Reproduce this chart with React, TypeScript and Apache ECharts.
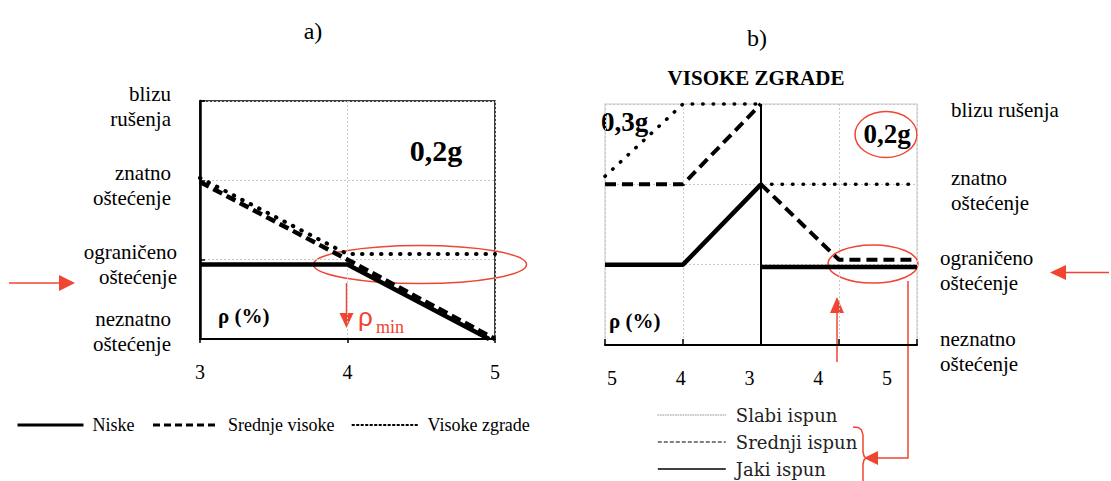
import React, { useEffect, useRef } from 'react';
import * as echarts from 'echarts';

// ---- tick / category labels ----
const levelLabelsA = ['neznatno\noštećenje', 'ograničeno\noštećenje', 'znatno\noštećenje', 'blizu\nrušenja'];
const levelLabelsB = ['neznatno\noštećenje', 'ograničeno\noštećenje', 'znatno\noštećenje', 'blizu rušenja'];
const xTickLabelsB = ['5', '4', '3', '4', '5'];
const legendNamesA = ['Niske', 'Srednje visoke', 'Visoke zgrade'];
const legendNamesB = ['Slabi ispun', 'Srednji ispun', 'Jaki ispun'];

// ---- panel a) data: [rho %, damage level 0..3] ----
const niske = [[3, 0.94], [4, 0.94], [4.96, 0]];
const srednjeVisoke = [[3, 1.98], [4, 1.0], [5, 0]];
const visokeZgrade = [[3, 2.03], [4, 1.07], [5, 1.07]];

// ---- panel b) data: [axis position 0..4 (5,4,3,4,5), damage level 0..3] ----
const slabiLeft = [[0, 2.1], [1, 3], [2, 3]];
const srednjiLeft = [[0, 2], [1, 2], [2, 3]];
const jakiLeft = [[0, 1], [1, 1], [2, 2]];
const slabiRight = [[2, 2], [4, 2]];
const srednjiRight = [[2, 2], [3, 1.06], [4, 1.06]];
const jakiRight = [[2, 0.97], [4, 0.97]];
const bCenter = 2;

const RED = '#ef4531';
const SERIF = 'Liberation Serif';
const F = (size: number, bold = false, fam = 'Liberation Serif') => `${bold ? 'bold ' : ''}${size}px ${fam}`;

export default function App() {
  const ref = useRef<HTMLDivElement>(null);
  useEffect(() => {
    if (!ref.current) return;
    const chart = echarts.init(ref.current, undefined, { renderer: 'svg' });

    const gridLine = { show: true, lineStyle: { color: '#c8c8c8', width: 1, type: [2, 2] } };
    const solidA = { color: '#000', width: 4.5 };
    const dashedA = { color: '#000', width: 4.5, type: [10, 5] };
    const dottedA = { color: '#000', width: 4, type: [0.5, 9], cap: 'round' };
    const solidB = { color: '#000', width: 4.5 };
    const dashedB = { color: '#000', width: 4, type: [11, 6] };
    const dottedB = { color: '#000', width: 3.5, type: [0.5, 10], cap: 'round' };

    const lineSeries = (name: string, data: number[][], ls: any, idx: number, extra: any = {}) => ({
      name, type: 'line', data, xAxisIndex: idx === 0 ? 0 : 1, yAxisIndex: idx,
      symbol: 'none', showSymbol: false, clip: false, silent: true, animation: false,
      lineStyle: ls, ...extra,
    });

    const option: any = {
      animation: false,
      textStyle: { fontFamily: SERIF },
      grid: [
        { left: 200, right: 616, top: 101, bottom: 142, show: true, borderColor: '#000', borderWidth: 1.5, outerBoundsMode: 'none', containLabel: false },
        { left: 605, right: 194, top: 104, bottom: 136, show: true, borderColor: '#dcdcdc', borderWidth: 1.5, outerBoundsMode: 'none', containLabel: false },
      ],
      xAxis: [
        {
          gridIndex: 0, type: 'value', min: 3, max: 5, interval: 1,
          axisLine: { show: true, lineStyle: { color: '#000', width: 2 } },
          axisTick: { show: true, length: 4, lineStyle: { color: '#000', width: 1.5 } },
          axisLabel: { color: '#000', fontFamily: SERIF, fontSize: 20, margin: 23 },
          splitLine: gridLine,
        },
        {
          gridIndex: 1, type: 'value', min: 0, max: 4, interval: 1,
          axisLine: { show: true, lineStyle: { color: '#000', width: 2 } },
          axisTick: { show: true, inside: true, length: 6, lineStyle: { color: '#000', width: 1.5 } },
          axisLabel: { show: false },
          splitLine: gridLine,
        },
        {
          gridIndex: 1, type: 'value', position: 'bottom', offset: 0, min: -0.1018, max: 4.436,
          axisLine: { show: false }, axisTick: { show: false }, splitLine: { show: false },
          axisLabel: {
            show: true, customValues: [0, 1, 2, 3, 4], color: '#000', fontFamily: SERIF, fontSize: 20, margin: 23,
            formatter: (v: number) => xTickLabelsB[Math.round(v)] ?? '',
          },
        },
      ],
      yAxis: [
        {
          gridIndex: 0, type: 'value', min: 0, max: 3, interval: 1,
          axisLine: { show: true, lineStyle: { color: '#000', width: 2.5 } },
          axisTick: { show: true, inside: true, length: 5, lineStyle: { color: '#000', width: 1.5 } },
          splitLine: gridLine,
          axisLabel: {
            color: '#000', fontFamily: SERIF, fontSize: 21, lineHeight: 25, margin: 23, align: 'right',
            padding: [10, 0, 0, 0],
            formatter: (v: number) => {
              const i = Math.round(v);
              const st = i === 1 ? 'n' : 'p';
              let s = levelLabelsA[i].split('\n').map((l) => `{${st}|${l}}`).join('\n');
              if (i === 0) s += '\n{p| }';
              return s;
            },
            rich: {
              p: { fontFamily: SERIF, fontSize: 21, lineHeight: 25, color: '#000', padding: [0, 6, 0, 0] },
              n: { fontFamily: SERIF, fontSize: 21, lineHeight: 25, color: '#000' },
            },
          },
        },
        {
          gridIndex: 1, type: 'value', position: 'right', min: 0, max: 3, interval: 1,
          axisLine: { show: false }, axisTick: { show: false },
          splitLine: gridLine,
          axisLabel: {
            color: '#000', fontFamily: SERIF, fontSize: 21, lineHeight: 25, margin: 23, align: 'left',
            padding: [12, 0, 0, 0],
            formatter: (v: number) => {
              const i = Math.round(v);
              const st = i >= 2 ? 'p' : 'n';
              return levelLabelsB[i].split('\n').map((l) => `{${st}|${l}}`).join('\n');
            },
            rich: {
              p: { fontFamily: SERIF, fontSize: 21, lineHeight: 25, color: '#000', padding: [0, 0, 0, 11] },
              n: { fontFamily: SERIF, fontSize: 21, lineHeight: 25, color: '#000' },
            },
          },
        },
      ],
      legend: [
        {
          show: true, orient: 'horizontal', left: 16, top: 416, padding: 0,
          itemWidth: 66, itemHeight: 14, itemGap: 17, selectedMode: false,
          textStyle: { fontFamily: SERIF, fontSize: 18, color: '#000', padding: [0, 0, 0, 4] },
          data: [
            { name: legendNamesA[0], lineStyle: { color: '#000', width: 3, type: 'solid' }, itemStyle: { opacity: 0 } },
            { name: legendNamesA[1], lineStyle: { color: '#000', width: 3, type: [7, 4] }, itemStyle: { opacity: 0 } },
            { name: legendNamesA[2], lineStyle: { color: '#000', width: 2, type: [1.5, 3] }, itemStyle: { opacity: 0 } },
          ],
        },
        {
          show: true, orient: 'vertical', left: 657, top: 405, padding: 0,
          itemWidth: 68, itemHeight: 14, itemGap: 7, selectedMode: false,
          textStyle: { fontFamily: 'DejaVu Serif', fontSize: 18, lineHeight: 20, color: '#222', padding: [0, 0, 0, 5] },
          data: [
            { name: legendNamesB[0], lineStyle: { color: '#9a9a9a', width: 1, type: [1, 1.5] }, itemStyle: { opacity: 0 } },
            { name: legendNamesB[1], lineStyle: { color: '#000', width: 1.2, type: [4, 2] }, itemStyle: { opacity: 0 } },
            { name: legendNamesB[2], lineStyle: { color: '#000', width: 1.6, type: 'solid' }, itemStyle: { opacity: 0 } },
          ],
        },
      ],
      series: [
        lineSeries(legendNamesA[0], niske, solidA, 0),
        lineSeries(legendNamesA[1], srednjeVisoke, dashedA, 0),
        lineSeries(legendNamesA[2], visokeZgrade, dottedA, 0),
        lineSeries(legendNamesB[2], jakiRight, solidB, 1, {
          markLine: {
            silent: true, symbol: ['none', 'none'], label: { show: false },
            lineStyle: { color: '#000', width: 2, type: 'solid' },
            data: [{ xAxis: bCenter }],
          },
        }),
        lineSeries(legendNamesB[2], jakiLeft, solidB, 1),
        lineSeries(legendNamesB[1], srednjiLeft, dashedB, 1),
        lineSeries(legendNamesB[1], srednjiRight, dashedB, 1),
        lineSeries(legendNamesB[0], slabiLeft, dottedB, 1),
        lineSeries(legendNamesB[0], slabiRight, dottedB, 1),
      ],
      graphic: [
        // titles
        { type: 'text', x: 313, y: 31, style: { text: 'a)', font: F(24), fill: '#000', align: 'center', verticalAlign: 'middle' } },
        { type: 'text', x: 757, y: 38, style: { text: 'b)', font: F(24), fill: '#000', align: 'center', verticalAlign: 'middle' } },
        { type: 'text', x: 756, y: 78, style: { text: 'VISOKE ZGRADE', font: F(21, true), fill: '#000', align: 'center', verticalAlign: 'middle' } },
        // panel a annotations
        { type: 'text', x: 436, y: 150, style: { text: '0,2g', font: F(30, true), fill: '#000', align: 'center', verticalAlign: 'middle' } },
        { type: 'text', x: 218, y: 316, style: { text: 'ρ (%)', font: F(21, true), fill: '#000', align: 'left', verticalAlign: 'middle' } },
        { type: 'ellipse', shape: { cx: 420, cy: 264.5, rx: 106.5, ry: 19 }, style: { fill: 'transparent', stroke: RED, lineWidth: 1.5 } },
        { type: 'line', shape: { x1: 9, y1: 283, x2: 61, y2: 283 }, style: { stroke: RED, lineWidth: 1.5 } },
        { type: 'polygon', shape: { points: [[59, 275], [75, 283], [59, 291]] }, style: { fill: RED } },
        { type: 'line', shape: { x1: 346.5, y1: 283, x2: 346.5, y2: 315 }, style: { stroke: RED, lineWidth: 1.5 } },
        { type: 'polygon', shape: { points: [[339.5, 313], [346.5, 328], [353.5, 313]] }, style: { fill: RED } },
        { type: 'text', x: 358, y: 317, style: { text: 'ρ', font: F(26, false, 'Liberation Sans'), fill: RED, align: 'left', verticalAlign: 'middle' } },
        { type: 'text', x: 376, y: 327, style: { text: 'min', font: F(18), fill: RED, align: 'left', verticalAlign: 'middle' } },
        // panel b annotations
        { type: 'text', x: 601, y: 122, style: { text: '0,3g', font: F(27, true), fill: '#000', align: 'left', verticalAlign: 'middle' } },
        { type: 'text', x: 887, y: 134, style: { text: '0,2g', font: F(27, true), fill: '#000', align: 'center', verticalAlign: 'middle' } },
        { type: 'text', x: 609, y: 321, style: { text: 'ρ (%)', font: F(21, true), fill: '#000', align: 'left', verticalAlign: 'middle' } },
        { type: 'ellipse', shape: { cx: 886, cy: 134.5, rx: 31, ry: 23 }, style: { fill: 'transparent', stroke: RED, lineWidth: 1.5 } },
        { type: 'ellipse', shape: { cx: 873, cy: 264, rx: 45, ry: 19 }, style: { fill: 'transparent', stroke: RED, lineWidth: 1.5 } },
        { type: 'line', shape: { x1: 1109, y1: 272.5, x2: 1064, y2: 272.5 }, style: { stroke: RED, lineWidth: 1.5 } },
        { type: 'polygon', shape: { points: [[1066, 265], [1050, 272.5], [1066, 280]] }, style: { fill: RED } },
        { type: 'line', shape: { x1: 837, y1: 362, x2: 837, y2: 311 }, style: { stroke: RED, lineWidth: 1.5 } },
        { type: 'polygon', shape: { points: [[830, 313], [837, 297], [844, 313]] }, style: { fill: RED } },
        { type: 'polyline', shape: { points: [[908, 281], [908, 458], [876, 458]] }, style: { stroke: RED, lineWidth: 1.5, fill: 'none' } },
        { type: 'polygon', shape: { points: [[878, 451], [864, 458], [878, 465]] }, style: { fill: RED } },
        {
          type: 'polyline',
          shape: { points: [[853, 427], [858, 427.5], [861.5, 430], [863, 435], [863, 452], [864, 456], [866, 458], [864, 460], [863, 464], [863, 481]] },
          style: { stroke: RED, lineWidth: 1.5, fill: 'none' },
        },
      ],
    };

    chart.setOption(option);
    return () => chart.dispose();
  }, []);

  return (
    <div
      ref={ref}
      style={{ position: 'absolute', left: 0, top: 0, width: 1111, height: 481, background: '#fff' }}
    />
  );
}
